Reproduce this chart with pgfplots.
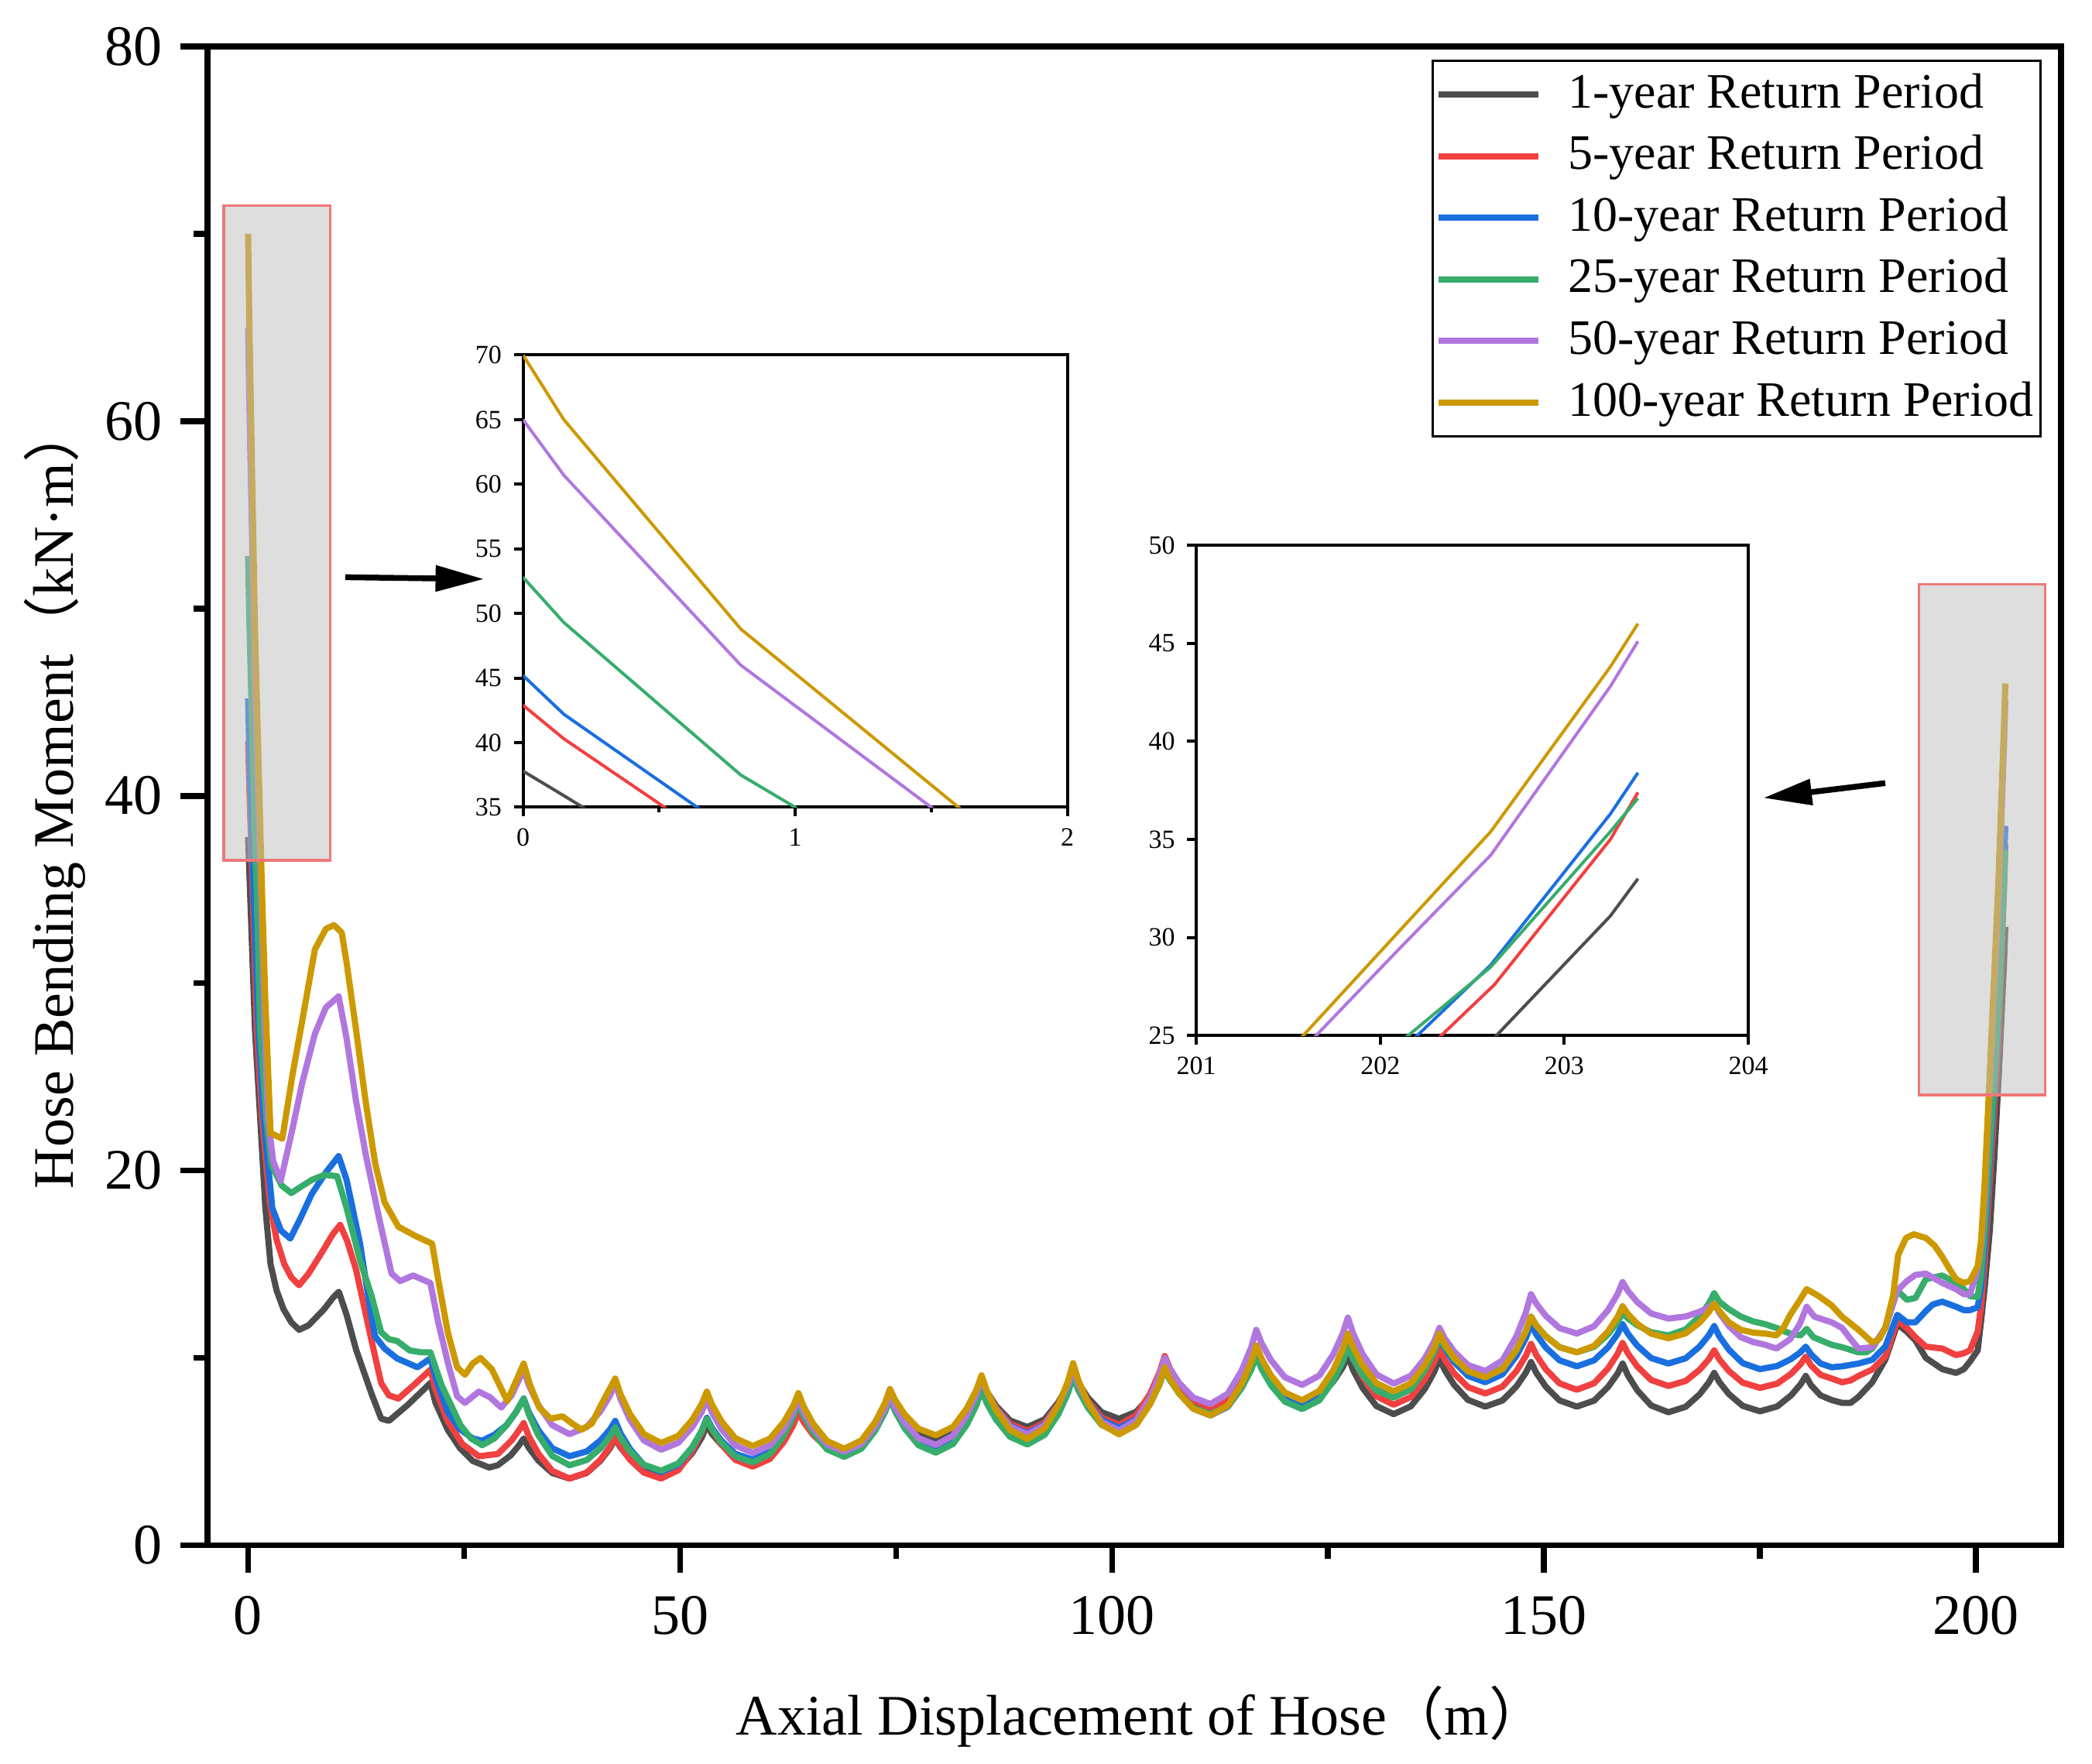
\documentclass[border=0pt]{standalone}
\usepackage{fontspec}
\setmainfont{Liberation Serif}
\newfontfamily\cjk{Noto Sans CJK SC}
\usepackage{pgfplots}
\pgfplotsset{compat=1.18}
\usepackage{pgfplotstable}
\usetikzlibrary{arrows.meta}
\definecolor{cK}{RGB}{77,77,77}
\definecolor{cR}{RGB}{240,64,64}
\definecolor{cB}{RGB}{26,111,223}
\definecolor{cG}{RGB}{55,173,107}
\definecolor{cU}{RGB}{177,119,222}
\definecolor{cY}{RGB}{204,153,0}
\definecolor{rectfill}{RGB}{190,190,190}
\definecolor{rectedge}{RGB}{240,120,120}

\pgfplotstableread[row sep=\\]{x y\\
0 37.8\\ 0.15 35.9\\ 0.8 27.5\\ 1.4 22.8\\ 2.0 18.0\\ 2.6 15.0\\ 3.3 13.6\\ 4.1 12.6\\ 5.0 11.9\\ 5.9 11.5\\ 7.0 11.74\\ 8.8 12.6\\ 9.8 13.2\\ 10.5 13.53\\ 11.4 12.3\\ 12.5 10.44\\ 14.3 8.07\\ 15.4 6.76\\ 16.3 6.64\\ 18.5 7.5\\ 20.3 8.3\\ 21.1 8.66\\ 21.7 7.6\\ 23.1 6.17\\ 24.5 5.2\\ 26.0 4.5\\ 27.9 4.15\\ 28.9 4.27\\ 30.4 4.8\\ 31.3 5.3\\ 31.9 5.7\\
32.5 5.19\\ 33.6 4.52\\ 35.2 3.86\\ 37.2 3.56\\ 39.2 3.86\\ 40.8 4.52\\ 41.9 5.19\\ 42.5 5.7\\
43.1 5.22\\ 44.2 4.6\\ 45.8 3.98\\ 47.8 3.7\\ 49.8 4.08\\ 51.4 4.92\\ 52.5 5.75\\ 53.1 6.4\\
53.7 5.94\\ 54.8 5.36\\ 56.4 4.77\\ 58.4 4.5\\ 60.4 4.93\\ 62.0 5.9\\ 63.1 6.86\\ 63.7 7.6\\
64.3 6.95\\ 65.4 6.12\\ 67.0 5.28\\ 69.0 4.9\\ 71.0 5.31\\ 72.6 6.22\\ 73.7 7.13\\ 74.3 7.83\\
74.9 7.31\\ 76.0 6.64\\ 77.6 5.96\\ 79.6 5.66\\ 81.6 6.1\\ 83.2 7.07\\ 84.3 8.05\\ 84.9 8.8\\
85.5 8.2\\ 86.6 7.43\\ 88.2 6.66\\ 90.2 6.31\\ 92.2 6.72\\ 93.8 7.64\\ 94.9 8.56\\ 95.5 9.27\\
96.1 8.67\\ 97.2 7.88\\ 98.8 7.1\\ 100.8 6.75\\ 102.8 7.12\\ 104.4 7.94\\ 105.5 8.76\\ 106.1 9.4\\
106.7 8.84\\ 107.8 8.12\\ 109.4 7.4\\ 111.4 7.07\\ 113.4 7.55\\ 115.0 8.61\\ 116.1 9.68\\ 116.7 10.5\\
117.3 9.8\\ 118.4 8.91\\ 120.0 8.01\\ 122.0 7.6\\ 124.0 7.95\\ 125.6 8.73\\ 126.7 9.5\\ 127.3 10.1\\
127.9 9.36\\ 129.0 8.4\\ 130.6 7.43\\ 132.6 7.0\\ 134.6 7.42\\ 136.2 8.34\\ 137.3 9.26\\ 137.9 9.98\\
138.5 9.36\\ 139.6 8.56\\ 141.2 7.76\\ 143.2 7.4\\ 145.2 7.73\\ 146.8 8.47\\ 147.9 9.21\\ 148.5 9.78\\
149.1 9.21\\ 150.2 8.47\\ 151.8 7.73\\ 153.8 7.4\\ 155.8 7.72\\ 157.4 8.44\\ 158.5 9.15\\ 159.1 9.7\\
159.7 9.08\\ 160.8 8.27\\ 162.4 7.46\\ 164.4 7.1\\ 166.4 7.39\\ 168.0 8.05\\ 169.1 8.7\\ 169.7 9.2\\
170.3 8.71\\ 171.4 8.07\\ 173.0 7.44\\ 175.0 7.15\\ 177.0 7.41\\ 178.6 8.0\\ 179.7 8.59\\ 180.3 9.04\\
180.9 8.55\\ 182.0 8.0\\ 183.3 7.75\\ 184.5 7.6\\ 185.5 7.6\\ 186.4 7.92\\ 188.0 8.7\\ 189.5 9.9\\ 190.9 11.8\\ 192.0 11.4\\ 193.0 10.93\\ 194.2 10.0\\ 196.1 9.4\\ 197.7 9.2\\ 198.6 9.4\\ 199.3 9.8\\ 200.2 10.4\\ 200.6 12.0\\ 201.0 13.7\\ 201.6 16.8\\ 202.1 20.5\\ 202.63 25.0\\ 203.25 31.1\\ 203.4 33.0\\
}\tK

\pgfplotstableread[row sep=\\]{x y\\
0 42.9\\ 0.15 40.3\\ 0.52 35.0\\ 1.0 27.5\\ 1.6 22.8\\ 2.5 18.3\\ 3.3 16.3\\ 4.2 15.0\\ 5.0 14.3\\ 5.9 13.88\\ 7.0 14.5\\ 8.5 15.6\\ 9.8 16.6\\ 10.66 17.1\\ 11.5 16.2\\ 12.5 14.7\\ 13.4 12.8\\ 14.3 10.9\\ 15.4 8.66\\ 16.3 8.0\\ 17.4 7.83\\ 19.3 8.6\\ 21.1 9.37\\ 21.7 8.3\\ 23.1 6.64\\ 24.8 5.4\\ 26.7 4.75\\ 28.9 4.87\\ 30.5 5.6\\ 31.3 6.1\\ 31.9 6.52\\
32.5 5.81\\ 33.6 4.89\\ 35.2 3.97\\ 37.2 3.56\\ 39.2 3.88\\ 40.8 4.57\\ 41.9 5.27\\ 42.5 5.81\\
43.1 5.27\\ 44.2 4.57\\ 45.8 3.88\\ 47.8 3.56\\ 49.8 4.01\\ 51.4 5.02\\ 52.5 6.02\\ 53.1 6.8\\
53.7 6.18\\ 54.8 5.37\\ 56.4 4.56\\ 58.4 4.2\\ 60.4 4.61\\ 62.0 5.51\\ 63.1 6.41\\ 63.7 7.11\\
64.3 6.58\\ 65.4 5.89\\ 67.0 5.21\\ 69.0 4.9\\ 71.0 5.31\\ 72.6 6.22\\ 73.7 7.13\\ 74.3 7.83\\
74.9 7.19\\ 76.0 6.36\\ 77.6 5.53\\ 79.6 5.15\\ 81.6 5.66\\ 83.2 6.79\\ 84.3 7.92\\ 84.9 8.8\\
85.5 8.15\\ 86.6 7.32\\ 88.2 6.48\\ 90.2 6.1\\ 92.2 6.54\\ 93.8 7.53\\ 94.9 8.51\\ 95.5 9.27\\
96.1 8.59\\ 97.2 7.7\\ 98.8 6.82\\ 100.8 6.42\\ 102.8 6.94\\ 104.4 8.08\\ 105.5 9.22\\ 106.1 10.1\\
106.7 9.44\\ 107.8 8.58\\ 109.4 7.73\\ 111.4 7.34\\ 113.4 7.8\\ 115.0 8.81\\ 116.1 9.82\\ 116.7 10.6\\
117.3 9.86\\ 118.4 8.9\\ 120.0 7.93\\ 122.0 7.5\\ 124.0 7.96\\ 125.6 8.99\\ 126.7 10.01\\ 127.3 10.8\\
127.9 10.01\\ 129.0 8.99\\ 130.6 7.96\\ 132.6 7.5\\ 134.6 7.92\\ 136.2 8.85\\ 137.3 9.78\\ 137.9 10.5\\
138.5 9.92\\ 139.6 9.18\\ 141.2 8.44\\ 143.2 8.1\\ 145.2 8.47\\ 146.8 9.29\\ 147.9 10.11\\ 148.5 10.75\\
149.1 10.16\\ 150.2 9.4\\ 151.8 8.64\\ 153.8 8.3\\ 155.8 8.65\\ 157.4 9.43\\ 158.5 10.2\\ 159.1 10.8\\
159.7 10.25\\ 160.8 9.54\\ 162.4 8.82\\ 164.4 8.5\\ 166.4 8.77\\ 168.0 9.36\\ 169.1 9.94\\ 169.7 10.4\\
170.3 9.92\\ 171.4 9.3\\ 173.0 8.68\\ 175.0 8.4\\ 177.0 8.63\\ 178.6 9.15\\ 179.7 9.67\\ 180.3 10.07\\
180.9 9.6\\ 182.0 9.1\\ 183.3 8.9\\ 184.5 8.7\\ 185.5 8.8\\ 186.4 9.04\\ 188.0 9.38\\ 189.5 10.07\\ 190.9 12.0\\ 192.0 11.6\\ 193.0 11.1\\ 194.2 10.6\\ 196.1 10.5\\ 197.7 10.15\\ 198.6 10.25\\ 199.3 10.4\\ 200.2 11.4\\ 200.6 12.8\\ 201.0 15.0\\ 201.4 18.0\\ 201.9 21.6\\ 202.33 25.0\\ 202.62 27.6\\ 203.25 35.0\\ 203.4 37.4\\
}\tR

\pgfplotstableread[row sep=\\]{x y\\
0 45.2\\ 0.15 42.2\\ 0.64 35.0\\ 1.2 27.5\\ 1.8 22.8\\ 2.8 18.0\\ 3.8 16.8\\ 4.88 16.37\\ 6.0 17.4\\ 7.37 18.75\\ 9.0 19.9\\ 10.48 20.77\\ 11.4 19.5\\ 12.96 16.1\\ 14.0 13.0\\ 14.7 11.15\\ 15.8 10.5\\ 17.25 9.97\\ 19.6 9.5\\ 21.1 9.97\\ 21.8 8.8\\ 23.1 7.12\\ 24.5 6.2\\ 26.0 5.7\\ 27.1 5.58\\ 28.5 5.9\\ 29.9 6.4\\ 31.0 7.1\\ 31.9 7.83\\
32.5 7.09\\ 33.6 6.14\\ 35.2 5.18\\ 37.2 4.75\\ 39.2 5.01\\ 40.8 5.6\\ 41.9 6.19\\ 42.5 6.64\\
43.1 5.98\\ 44.2 5.14\\ 45.8 4.29\\ 47.8 3.91\\ 49.8 4.31\\ 51.4 5.21\\ 52.5 6.11\\ 53.1 6.8\\
53.7 6.26\\ 54.8 5.57\\ 56.4 4.88\\ 58.4 4.57\\ 60.4 4.99\\ 62.0 5.93\\ 63.1 6.87\\ 63.7 7.6\\
64.3 6.95\\ 65.4 6.12\\ 67.0 5.28\\ 69.0 4.9\\ 71.0 5.31\\ 72.6 6.22\\ 73.7 7.13\\ 74.3 7.83\\
74.9 7.21\\ 76.0 6.4\\ 77.6 5.59\\ 79.6 5.23\\ 81.6 5.73\\ 83.2 6.84\\ 84.3 7.94\\ 84.9 8.8\\
85.5 8.12\\ 86.6 7.25\\ 88.2 6.37\\ 90.2 5.98\\ 92.2 6.44\\ 93.8 7.46\\ 94.9 8.48\\ 95.5 9.27\\
96.1 8.55\\ 97.2 7.62\\ 98.8 6.69\\ 100.8 6.27\\ 102.8 6.72\\ 104.4 7.72\\ 105.5 8.72\\ 106.1 9.5\\
106.7 8.88\\ 107.8 8.09\\ 109.4 7.29\\ 111.4 6.93\\ 113.4 7.39\\ 115.0 8.4\\ 116.1 9.42\\ 116.7 10.2\\
117.3 9.58\\ 118.4 8.77\\ 120.0 7.96\\ 122.0 7.6\\ 124.0 8.05\\ 125.6 9.04\\ 126.7 10.03\\ 127.3 10.8\\
127.9 10.12\\ 129.0 9.23\\ 130.6 8.35\\ 132.6 7.95\\ 134.6 8.39\\ 136.2 9.37\\ 137.3 10.34\\ 137.9 11.1\\
138.5 10.52\\ 139.6 9.78\\ 141.2 9.04\\ 143.2 8.7\\ 145.2 9.13\\ 146.8 10.1\\ 147.9 11.06\\ 148.5 11.8\\
149.1 11.26\\ 150.2 10.56\\ 151.8 9.87\\ 153.8 9.55\\ 155.8 9.87\\ 157.4 10.56\\ 158.5 11.26\\ 159.1 11.8\\
159.7 11.3\\ 160.8 10.65\\ 162.4 9.99\\ 164.4 9.7\\ 166.4 9.98\\ 168.0 10.6\\ 169.1 11.22\\ 169.7 11.7\\
170.3 11.15\\ 171.4 10.44\\ 173.0 9.72\\ 175.0 9.4\\ 177.0 9.57\\ 178.6 9.94\\ 179.7 10.31\\ 180.3 10.6\\
180.9 10.2\\ 182.0 9.7\\ 183.3 9.5\\ 184.5 9.55\\ 186.4 9.7\\ 188.0 9.9\\ 189.5 10.6\\ 190.9 12.3\\ 192.0 11.9\\ 193.0 11.9\\ 194.2 12.5\\ 195.0 12.85\\ 196.1 13.0\\ 197.7 12.73\\ 198.6 12.55\\ 199.3 12.55\\ 200.2 12.7\\ 200.6 13.8\\ 201.0 16.0\\ 201.6 20.5\\ 202.2 25.0\\ 202.6 28.6\\ 203.25 36.3\\ 203.4 38.4\\
}\tB

\pgfplotstableread[row sep=\\]{x y\\
0 52.8\\ 0.15 49.3\\ 0.8 37.5\\ 1.0 35.0\\ 1.4 27.5\\ 2.1 22.8\\ 2.7 20.3\\ 3.89 19.2\\ 5.0 18.8\\ 6.0 19.1\\ 7.37 19.5\\ 8.83 19.77\\ 10.3 19.7\\ 11.4 18.0\\ 12.96 15.2\\ 14.3 13.3\\ 15.4 11.37\\ 16.3 11.0\\ 17.25 10.9\\ 18.7 10.4\\ 20.0 10.3\\ 21.1 10.3\\ 22.4 8.54\\ 24.6 6.4\\ 25.8 5.7\\ 27.1 5.34\\ 28.5 5.7\\ 29.9 6.4\\ 31.0 7.1\\ 31.9 7.83\\
32.5 6.98\\ 33.6 5.87\\ 35.2 4.77\\ 37.2 4.27\\ 39.2 4.55\\ 40.8 5.18\\ 41.9 5.81\\ 42.5 6.29\\
43.1 5.74\\ 44.2 5.02\\ 45.8 4.3\\ 47.8 3.98\\ 49.8 4.37\\ 51.4 5.23\\ 52.5 6.09\\ 53.1 6.75\\
53.7 6.19\\ 54.8 5.47\\ 56.4 4.75\\ 58.4 4.42\\ 60.4 4.87\\ 62.0 5.85\\ 63.1 6.84\\ 63.7 7.6\\
64.3 6.91\\ 65.4 6.02\\ 67.0 5.12\\ 69.0 4.72\\ 71.0 5.16\\ 72.6 6.12\\ 73.7 7.08\\ 74.3 7.83\\
74.9 7.14\\ 76.0 6.24\\ 77.6 5.34\\ 79.6 4.94\\ 81.6 5.41\\ 83.2 6.44\\ 84.3 7.48\\ 84.9 8.28\\
85.5 7.58\\ 86.6 6.69\\ 88.2 5.79\\ 90.2 5.38\\ 92.2 5.89\\ 93.8 7.01\\ 94.9 8.13\\ 95.5 9.0\\
96.1 8.28\\ 97.2 7.35\\ 98.8 6.42\\ 100.8 6.0\\ 102.8 6.48\\ 104.4 7.53\\ 105.5 8.58\\ 106.1 9.4\\
106.7 8.82\\ 107.8 8.08\\ 109.4 7.34\\ 111.4 7.0\\ 113.4 7.43\\ 115.0 8.4\\ 116.1 9.36\\ 116.7 10.1\\
117.3 9.42\\ 118.4 8.54\\ 120.0 7.67\\ 122.0 7.27\\ 124.0 7.74\\ 125.6 8.77\\ 126.7 9.8\\ 127.3 10.6\\
127.9 9.95\\ 129.0 9.1\\ 130.6 8.26\\ 132.6 7.88\\ 134.6 8.33\\ 136.2 9.33\\ 137.3 10.33\\ 137.9 11.1\\
138.5 10.6\\ 139.6 9.95\\ 141.2 9.29\\ 143.2 9.0\\ 145.2 9.45\\ 146.8 10.44\\ 147.9 11.43\\ 148.5 12.2\\
149.1 11.74\\ 150.2 11.16\\ 151.8 10.57\\ 153.8 10.3\\ 155.8 10.59\\ 157.4 11.25\\ 158.5 11.9\\ 159.1 12.4\\
159.7 12.11\\ 160.8 11.74\\ 162.4 11.37\\ 164.4 11.2\\ 166.4 11.52\\ 168.0 12.21\\ 169.1 12.91\\ 169.7 13.45\\
170.3 13.0\\ 171.4 12.6\\ 172.8 12.2\\ 174.2 11.95\\ 175.6 11.8\\ 176.9 11.6\\ 178.5 11.3\\ 179.7 11.2\\ 180.4 11.55\\ 181.2 11.1\\ 183.3 10.7\\ 184.5 10.57\\ 186.4 10.3\\ 187.3 10.3\\ 188.0 10.5\\ 189.5 11.6\\ 190.9 13.6\\ 192.0 13.1\\ 193.0 13.2\\ 194.2 14.2\\ 196.1 14.4\\ 197.7 14.0\\ 198.6 13.67\\ 199.3 13.3\\ 200.2 13.25\\ 200.6 14.5\\ 201.0 16.8\\ 201.6 21.2\\ 202.15 25.0\\ 202.6 28.5\\ 203.25 35.4\\ 203.4 37.1\\
}\tG

\pgfplotstableread[row sep=\\]{x y\\
0 65.0\\ 0.15 60.7\\ 0.8 46.0\\ 1.5 35.0\\ 1.9 28.0\\ 2.3 22.8\\ 2.9 20.5\\ 3.78 19.46\\ 5.17 22.3\\ 6.27 24.7\\ 7.73 27.3\\ 9.0 28.7\\ 10.48 29.3\\ 11.4 27.05\\ 12.5 23.7\\ 13.6 20.9\\ 15.1 17.6\\ 16.6 14.5\\ 17.6 14.1\\ 19.1 14.4\\ 21.1 14.0\\ 22.0 11.9\\ 23.2 9.6\\ 24.2 7.95\\ 25.1 7.6\\ 26.7 8.2\\ 28.0 7.9\\ 29.3 7.35\\ 30.5 8.0\\ 31.9 9.37\\
32.5 8.54\\ 33.6 7.48\\ 35.2 6.41\\ 37.2 5.93\\ 39.2 6.31\\ 40.8 7.16\\ 41.9 8.0\\ 42.5 8.66\\
43.1 7.81\\ 44.2 6.7\\ 45.8 5.6\\ 47.8 5.1\\ 49.8 5.47\\ 51.4 6.3\\ 52.5 7.12\\ 53.1 7.76\\
53.7 7.08\\ 54.8 6.2\\ 56.4 5.33\\ 58.4 4.93\\ 60.4 5.33\\ 62.0 6.22\\ 63.1 7.11\\ 63.7 7.8\\
64.3 7.13\\ 65.4 6.26\\ 67.0 5.39\\ 69.0 5.0\\ 71.0 5.42\\ 72.6 6.35\\ 73.7 7.28\\ 74.3 8.0\\
74.9 7.36\\ 76.0 6.54\\ 77.6 5.72\\ 79.6 5.35\\ 81.6 5.85\\ 83.2 6.95\\ 84.3 8.05\\ 84.9 8.9\\
85.5 8.18\\ 86.6 7.26\\ 88.2 6.34\\ 90.2 5.92\\ 92.2 6.41\\ 93.8 7.49\\ 94.9 8.56\\ 95.5 9.4\\
96.1 8.62\\ 97.2 7.6\\ 98.8 6.59\\ 100.8 6.13\\ 102.8 6.67\\ 104.4 7.87\\ 105.5 9.07\\ 106.1 10.0\\
106.7 9.41\\ 107.8 8.65\\ 109.4 7.88\\ 111.4 7.54\\ 113.4 8.09\\ 115.0 9.32\\ 116.1 10.55\\ 116.7 11.5\\
117.3 10.79\\ 118.4 9.88\\ 120.0 8.97\\ 122.0 8.56\\ 124.0 9.06\\ 125.6 10.18\\ 126.7 11.29\\ 127.3 12.15\\
127.9 11.31\\ 129.0 10.21\\ 130.6 9.12\\ 132.6 8.63\\ 134.6 9.05\\ 136.2 9.97\\ 137.3 10.89\\ 137.9 11.6\\
138.5 11.05\\ 139.6 10.34\\ 141.2 9.62\\ 143.2 9.3\\ 145.2 9.87\\ 146.8 11.15\\ 147.9 12.42\\ 148.5 13.4\\
149.1 12.9\\ 150.2 12.25\\ 151.8 11.59\\ 153.8 11.3\\ 155.8 11.69\\ 157.4 12.54\\ 158.5 13.39\\ 159.1 14.05\\
159.7 13.58\\ 160.8 12.98\\ 162.4 12.37\\ 164.4 12.1\\ 166.4 12.21\\ 168.0 12.46\\ 169.1 12.71\\ 169.7 12.9\\
170.3 12.4\\ 171.4 11.7\\ 172.8 11.1\\ 174.2 10.85\\ 175.6 10.7\\ 176.9 10.5\\ 178.5 11.0\\ 179.6 11.8\\ 180.4 12.73\\ 181.3 12.2\\ 183.3 11.9\\ 184.5 11.6\\ 185.5 11.0\\ 186.4 10.5\\ 188.0 10.57\\ 189.5 11.6\\ 190.9 13.6\\ 192.0 14.1\\ 193.0 14.43\\ 194.2 14.5\\ 196.1 14.0\\ 197.7 13.67\\ 198.6 13.4\\ 199.3 13.4\\ 200.2 14.7\\ 200.6 16.0\\ 201.0 18.5\\ 201.65 25.0\\ 202.1 29.4\\ 202.6 34.2\\ 203.25 42.8\\ 203.4 45.1\\
}\tU

\pgfplotstableread[row sep=\\]{x y\\
0 70.0\\ 0.15 65.0\\ 0.8 48.8\\ 1.6 35.0\\ 2.0 29.0\\ 2.6 22.0\\ 3.96 21.7\\ 5.17 25.2\\ 6.27 28.0\\ 7.73 31.8\\ 9.0 32.9\\ 9.93 33.1\\ 10.84 32.7\\ 11.4 31.1\\ 12.5 27.5\\ 13.6 23.7\\ 14.7 20.4\\ 15.8 18.3\\ 17.4 17.0\\ 19.4 16.5\\ 21.3 16.1\\ 22.0 14.2\\ 23.1 11.4\\ 24.2 9.5\\ 25.1 9.1\\ 26.0 9.7\\ 26.9 10.0\\ 28.2 9.4\\ 30.0 7.7\\ 31.9 9.7\\
32.6 8.6\\ 33.7 7.35\\ 35.0 6.76\\ 36.4 6.88\\ 37.5 6.5\\ 38.6 6.17\\ 39.8 6.5\\ 40.7 7.35\\ 41.8 8.3\\ 42.5 8.9\\
43.1 8.07\\ 44.2 7.01\\ 45.8 5.94\\ 47.8 5.46\\ 49.8 5.84\\ 51.4 6.69\\ 52.5 7.54\\ 53.1 8.2\\
53.7 7.5\\ 54.8 6.61\\ 56.4 5.71\\ 58.4 5.3\\ 60.4 5.69\\ 62.0 6.57\\ 63.1 7.44\\ 63.7 8.12\\
64.3 7.41\\ 65.4 6.49\\ 67.0 5.57\\ 69.0 5.15\\ 71.0 5.6\\ 72.6 6.59\\ 73.7 7.57\\ 74.3 8.34\\
74.9 7.75\\ 76.0 6.98\\ 77.6 6.22\\ 79.6 5.87\\ 81.6 6.32\\ 83.2 7.31\\ 84.3 8.3\\ 84.9 9.07\\
85.5 8.25\\ 86.6 7.2\\ 88.2 6.15\\ 90.2 5.67\\ 92.2 6.24\\ 93.8 7.49\\ 94.9 8.75\\ 95.5 9.72\\
96.1 8.81\\ 97.2 7.63\\ 98.8 6.45\\ 100.8 5.92\\ 102.8 6.42\\ 104.4 7.53\\ 105.5 8.64\\ 106.1 9.5\\
106.7 8.88\\ 107.8 8.09\\ 109.4 7.29\\ 111.4 6.93\\ 113.4 7.45\\ 115.0 8.61\\ 116.1 9.77\\ 116.7 10.67\\
117.3 9.97\\ 118.4 9.06\\ 120.0 8.15\\ 122.0 7.74\\ 124.0 8.24\\ 125.6 9.34\\ 126.7 10.45\\ 127.3 11.3\\
127.9 10.56\\ 129.0 9.61\\ 130.6 8.65\\ 132.6 8.22\\ 134.6 8.65\\ 136.2 9.61\\ 137.3 10.56\\ 137.9 11.3\\
138.5 10.74\\ 139.6 10.01\\ 141.2 9.29\\ 143.2 8.96\\ 145.2 9.41\\ 146.8 10.42\\ 147.9 11.42\\ 148.5 12.2\\
149.1 11.74\\ 150.2 11.16\\ 151.8 10.57\\ 153.8 10.3\\ 155.8 10.64\\ 157.4 11.41\\ 158.5 12.17\\ 159.1 12.76\\
159.7 12.35\\ 160.8 11.82\\ 162.4 11.29\\ 164.4 11.05\\ 166.4 11.31\\ 168.0 11.88\\ 169.1 12.46\\ 169.7 12.9\\
170.3 12.5\\ 171.4 11.9\\ 172.8 11.5\\ 174.2 11.35\\ 175.6 11.3\\ 176.9 11.2\\ 177.7 11.6\\ 178.5 12.3\\ 179.5 13.0\\ 180.4 13.67\\ 181.8 13.3\\ 183.3 12.8\\ 184.5 12.2\\ 186.4 11.5\\ 188.0 10.83\\ 188.8 11.0\\ 189.5 11.6\\ 190.4 13.3\\ 191.0 15.5\\ 191.9 16.4\\ 192.8 16.6\\ 194.2 16.4\\ 195.2 16.0\\ 196.1 15.4\\ 197.0 14.7\\ 197.7 14.2\\ 198.6 14.0\\ 199.3 14.1\\ 200.2 14.9\\ 200.6 16.3\\ 201.0 19.3\\ 201.58 25.0\\ 202.1 30.3\\ 202.6 35.4\\ 203.25 43.8\\ 203.4 46.0\\
}\tY

\pgfplotsset{
  series/.style={line width=1.6pt, line join=round},
  thinseries/.style={line width=0.8pt, line join=round},
  insetaxis/.style={
    scale only axis, clip=true,
    axis line style={line width=0.8pt},
    every tick/.style={line width=0.8pt, black},
    tick align=outside, xtick pos=bottom, ytick pos=left,
    major tick length=2.4pt, minor tick length=1.3pt,
    ticklabel style={font=\fontsize{6.8}{7.5}\selectfont},
    /pgf/number format/assume math mode=true,
    axis background/.style={fill=white},
    xticklabel style={yshift=0.4pt},
    yticklabel style={xshift=0.4pt},
  },
}

\begin{document}
\begin{tikzpicture}
\path[use as bounding box] (0,0) rectangle (540.4pt,455.4pt);
\begin{axis}[
  at={(53.6pt,56.3pt)}, anchor=south west,
  scale only axis, width=478.8pt, height=387.1pt,
  xmin=-4.7, xmax=209.85, ymin=0, ymax=80,
  xtick={0,50,100,150,200}, minor xtick={25,75,125,175},
  ytick={0,20,40,60,80}, minor ytick={10,30,50,70},
  tick align=outside, xtick pos=bottom, ytick pos=left,
  major tick length=7pt, minor tick length=3.5pt,
  axis line style={line width=1.5pt},
  every tick/.style={line width=1.5pt, black},
  ticklabel style={font=\fontsize{14.8}{16}\selectfont},
  xticklabel style={yshift=-2.6pt},
  yticklabel style={xshift=-1.2pt},
  /pgf/number format/assume math mode=true,
  legend style={at={(1,1)}, anchor=north east, xshift=-5.1pt, yshift=-3.5pt,
    draw=black, line width=0.6pt, font=\fontsize{12.8}{14}\selectfont,
    inner xsep=0.8pt, inner ysep=2.5pt, row sep=3.6pt,
    nodes={inner xsep=1pt, inner ysep=0pt, text height=9.6pt, text depth=2.7pt},
    /tikz/every odd column/.append style={column sep=5.8pt}},
  legend cell align=left,
  legend image code/.code={\draw[#1, line width=1.6pt] (0pt,0pt) -- (25.8pt,0pt);},
]
\addplot[cK, series] table[x=x,y=y]{\tK}; \addlegendentry{1-year Return Period}
\addplot[cR, series] table[x=x,y=y]{\tR}; \addlegendentry{5-year Return Period}
\addplot[cB, series] table[x=x,y=y]{\tB}; \addlegendentry{10-year Return Period}
\addplot[cG, series] table[x=x,y=y]{\tG}; \addlegendentry{25-year Return Period}
\addplot[cU, series] table[x=x,y=y]{\tU}; \addlegendentry{50-year Return Period}
\addplot[cY, series] table[x=x,y=y]{\tY}; \addlegendentry{100-year Return Period}
\draw[rectedge, line width=0.7pt, fill=rectfill, fill opacity=0.5] (axis cs:-2.84,36.56) rectangle (axis cs:9.5,71.5);
\draw[rectedge, line width=0.7pt, fill=rectfill, fill opacity=0.5] (axis cs:193.4,24.04) rectangle (axis cs:208.0,51.3);
\draw[black, line width=1.5pt, -{Triangle[length=12.5pt,width=6.5pt]}] (axis cs:11.25,51.67) -- (axis cs:27.3,51.57);
\draw[black, line width=1.5pt, -{Triangle[length=12.5pt,width=6.5pt]}] (axis cs:189.5,40.68) -- (axis cs:175.4,39.89);
\end{axis}

\node[rotate=90, anchor=base, font=\fontsize{14.8}{16}\selectfont] at (18.8pt,249.5pt) {Hose Bending Moment{\cjk （}kN·m{\cjk ）}};
\node[anchor=base, font=\fontsize{14.8}{16}\selectfont] at (294.8pt,7.4pt) {Axial Displacement of Hose{\cjk （}m{\cjk ）}};

\begin{axis}[insetaxis,
  at={(135.1pt,246.9pt)}, anchor=south west, width=140.6pt, height=116.8pt,
  xmin=0, xmax=2, ymin=35, ymax=70,
  xtick={0,1,2}, minor xtick={0.5,1.5},
  ytick={35,40,45,50,55,60,65,70},
]
\addplot[cK, thinseries] table[x=x,y=y]{\tK};
\addplot[cR, thinseries] table[x=x,y=y]{\tR};
\addplot[cB, thinseries] table[x=x,y=y]{\tB};
\addplot[cG, thinseries] table[x=x,y=y]{\tG};
\addplot[cU, thinseries] table[x=x,y=y]{\tU};
\addplot[cY, thinseries] table[x=x,y=y]{\tY};
\end{axis}

\begin{axis}[insetaxis,
  at={(308.9pt,187.9pt)}, anchor=south west, width=142.6pt, height=126.7pt,
  xmin=201, xmax=204, ymin=25, ymax=50,
  xtick={201,202,203,204},
  ytick={25,30,35,40,45,50},
]
\addplot[cK, thinseries] table[x=x,y=y]{\tK};
\addplot[cR, thinseries] table[x=x,y=y]{\tR};
\addplot[cB, thinseries] table[x=x,y=y]{\tB};
\addplot[cG, thinseries] table[x=x,y=y]{\tG};
\addplot[cU, thinseries] table[x=x,y=y]{\tU};
\addplot[cY, thinseries] table[x=x,y=y]{\tY};
\end{axis}
\end{tikzpicture}
\end{document}
